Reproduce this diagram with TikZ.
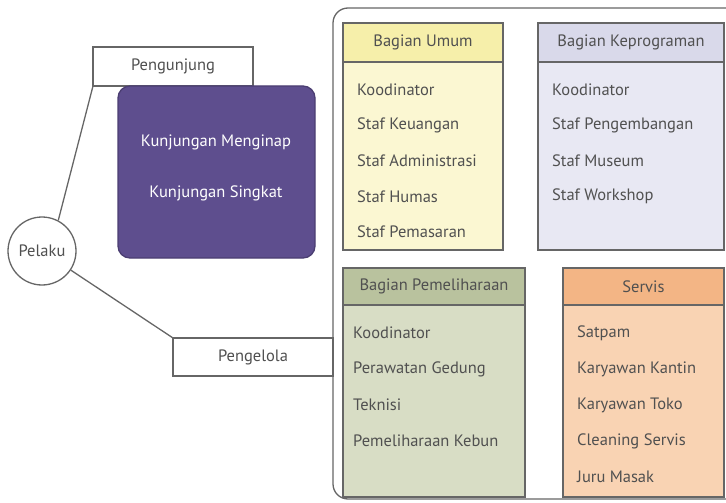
\documentclass[tikz,border=0pt]{standalone}
\usepackage{fontspec}
\setmainfont{PT Sans}
\definecolor{garis}{HTML}{666666}
\definecolor{teks}{HTML}{505050}
\definecolor{ungu}{HTML}{5E4E8E}
\definecolor{kuningA}{HTML}{F6EFAA}
\definecolor{kuningB}{HTML}{FBF7D2}
\definecolor{lavA}{HTML}{D9D9EA}
\definecolor{lavB}{HTML}{E8E8F3}
\definecolor{zaitunA}{HTML}{B9C29E}
\definecolor{zaitunB}{HTML}{D8DDC5}
\definecolor{jinggaA}{HTML}{F3B585}
\definecolor{jinggaB}{HTML}{F9D3B3}
\begin{document}
\begin{tikzpicture}[
		x=1pt, y=-1pt,
		every node/.style={font=\fontsize{16.5}{20}\selectfont, text=teks},
		kotak/.style={draw=garis, line width=1.3pt, inner sep=0pt, outer sep=0pt, anchor=north west},
		isi/.style={anchor=west, inner sep=0pt},
		garisan/.style={draw=garis, line width=1.3pt}
		]
		\useasboundingbox (0,0) rectangle (726,503);
		
		% wadah pengelola
		\draw[garisan, rounded corners=15pt] (333,8) rectangle (780,499);
		
		\node (pelaku) [draw=garis, line width=1.3pt, circle, minimum size=68pt, inner sep=0pt, fill=white] at (42,251) {Pelaku};
		\node (pengunjung) [kotak, fill=white, minimum width=160pt, minimum height=39pt] at (93,47) {Pengunjung};
		\node (kunjungan) [kotak, draw=ungu!80!black, fill=ungu, rounded corners=12pt, minimum width=197pt, minimum height=172pt] at (118,86) {};
		\node (menginap) [text=white] at (216,142) {Kunjungan Menginap};
		\node (singkat) [text=white] at (216,193) {Kunjungan Singkat};
		\node (pengelola) [kotak, fill=white, minimum width=160pt, minimum height=38pt] at (173,338) {Pengelola};
		
		\draw[garisan] (pelaku.62) -- (pengunjung.south west);
		\draw[garisan] (pelaku) -- (pengelola.north west);
		
		% bagian umum
		\node (umum) [kotak, fill=kuningA, minimum width=160pt, minimum height=39pt] at (343,23) {Bagian Umum};
		\node (umum-isi) [kotak, fill=kuningB, minimum width=160pt, minimum height=188pt] at (umum.south west) {};
		\foreach \t [count=\i] in {Koodinator, Staf Keuangan, Staf Administrasi, Staf Humas, Staf Pemasaran}
			\node (umum-\i) [isi] at (357,54.5+35.5*\i) {\t};
		
		% bagian keprograman
		\node (program) [kotak, fill=lavA, minimum width=186pt, minimum height=39pt] at (538,23) {Bagian Keprograman};
		\node (program-isi) [kotak, fill=lavB, minimum width=186pt, minimum height=188pt] at (program.south west) {};
		\foreach \t [count=\i] in {Koodinator, Staf Pengembangan, Staf Museum, Staf Workshop}
			\node (program-\i) [isi] at (552,54.5+35.5*\i) {\t};
		
		% bagian pemeliharaan
		\node (pelihara) [kotak, fill=zaitunA, minimum width=182pt, minimum height=37pt] at (343,268) {Bagian Pemeliharaan};
		\node (pelihara-isi) [kotak, fill=zaitunB, minimum width=182pt, minimum height=192pt] at (pelihara.south west) {};
		\foreach \t [count=\i] in {Koodinator, Perawatan Gedung, Teknisi, Pemeliharaan Kebun}
			\node (pelihara-\i) [isi] at (353,297+36*\i) {\t};
		
		% servis
		\node (servis) [kotak, fill=jinggaA, minimum width=161pt, minimum height=37pt] at (563,268) {Servis};
		\node (servis-isi) [kotak, fill=jinggaB, minimum width=161pt, minimum height=192pt] at (servis.south west) {};
		\foreach \t [count=\i] in {Satpam, Karyawan Kantin, Karyawan Toko, Cleaning Servis, Juru Masak}
			\node (servis-\i) [isi] at (577,297+36*\i) {\t};
		
	\end{tikzpicture}
\end{document}
